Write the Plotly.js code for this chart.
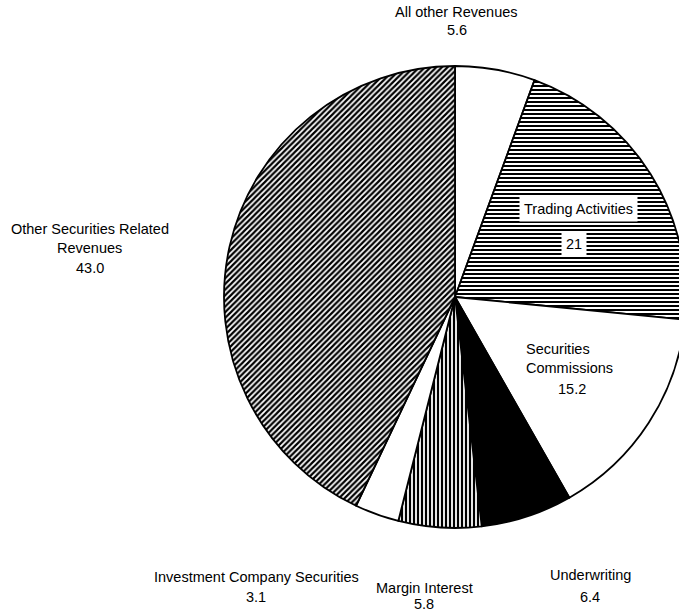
<!DOCTYPE html>
<html>
<head>
<meta charset="utf-8">
<script src="https://cdn.plot.ly/plotly-3.0.1.min.js"></script>
<style>
html, body { margin: 0; padding: 0; overflow: hidden; background: #fff; }
#chart { width: 700px; height: 612px; }
</style>
</head>
<body>
<div id="chart"></div>
<script>
// Data (clockwise from 12 o'clock)
const categories = [
  "All other Revenues",
  "Trading Activities",
  "Securities Commissions",
  "Underwriting",
  "Margin Interest",
  "Investment Company Securities",
  "Other Securities Related Revenues"
];
const values = [5.6, 21, 15.2, 6.4, 5.8, 3.1, 43.0];
const valueLabels = ["5.6", "21", "15.2", "6.4", "5.8", "3.1", "43.0"];

// Styles
const sliceColors = ["white", "white", "white", "black", "white", "white", "white"];
const sliceShapes = ["", "-", "", "", "|", "", "/"];
const patternSolidity = [0.5, 0.5, 0.5, 0.5, 0.55, 0.5, 0.55];

const W = 700, H = 612;
const px = x => x / W;
const py = y => 1 - y / H;
const FONT = { family: "Liberation Sans, Arial, sans-serif", size: 14.5, color: "black" };

const trace = {
  type: "pie",
  labels: categories,
  values: values,
  sort: false,
  direction: "clockwise",
  rotation: 0,
  textinfo: "none",
  hoverinfo: "label+value",
  showlegend: false,
  domain: { x: [224 / W, 686 / W], y: [py(529), py(65)] },
  marker: {
    colors: sliceColors,
    line: { color: "black", width: 1.8 },
    pattern: {
      shape: sliceShapes,
      fgcolor: "black",
      bgcolor: "white",
      fillmode: "replace",
      size: 4,
      solidity: patternSolidity
    }
  }
};

function ann(text, x, y, extra) {
  return Object.assign({
    text: text, xref: "paper", yref: "paper",
    x: px(x), y: py(y), xanchor: "center", yanchor: "middle",
    showarrow: false, font: FONT
  }, extra || {});
}

const annotations = [
  ann(categories[0], 457, 12),
  ann(valueLabels[0], 457, 30),
  ann(categories[1], 578, 209, { bgcolor: "white", borderpad: 4 }),
  ann(valueLabels[1], 574, 244, { bgcolor: "white", borderpad: 4 }),
  ann("Securities", 524, 349, { xanchor: "left" }),
  ann("Commissions", 524, 368, { xanchor: "left" }),
  ann(valueLabels[2], 572, 389),
  ann(categories[3], 590, 575),
  ann(valueLabels[3], 590, 597),
  ann(categories[4], 424, 588),
  ann(valueLabels[4], 424, 604),
  ann(categories[5], 256, 577),
  ann(valueLabels[5], 256, 597),
  ann("Other Securities Related", 90, 229),
  ann("Revenues", 90, 248),
  ann(valueLabels[6], 90, 268)
];

const layout = {
  width: W, height: H,
  margin: { l: 0, r: 0, t: 0, b: 0 },
  paper_bgcolor: "white",
  plot_bgcolor: "white",
  font: FONT,
  annotations: annotations
};

Plotly.newPlot("chart", [trace], layout, { staticPlot: true, displayModeBar: false });
</script>
</body>
</html>
